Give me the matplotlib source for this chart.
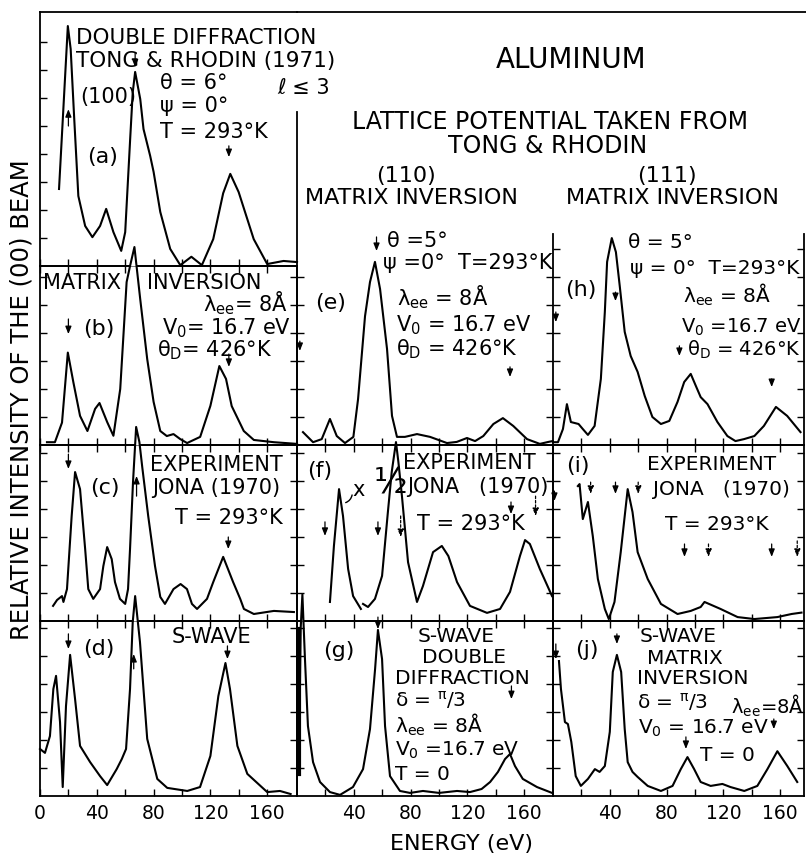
import matplotlib
matplotlib.use("Agg")
import matplotlib.pyplot as plt
from matplotlib.lines import Line2D
import numpy as np

W, H = 806, 854
PX_PER_EV = 1.42      # horizontal scale shared by all panels
PX_PER_UNIT = 28.0    # one y-tick step

# ---- curves: energy (eV) and relative intensity (tick units) ----
a_energy = [13.4, 19.6, 21.6, 24, 27, 31.8, 36.9, 42.3, 46.6, 51.7, 57.2, 60, 63.5, 65.3, 67, 70.6,
            72.9, 77.6, 80, 84.7, 91.7, 98.8, 106.6, 114, 122, 129, 134, 139.9, 150.5, 160, 171.5, 181]
a_int = [2.75, 8.57, 7.75, 5.36, 2.5, 1.43, 1.03, 1.43, 2.04, 1.21, 0.54, 1.21, 4.54, 6.2, 6.93, 5.96,
         4.89, 3.93, 3.36, 1.93, 0.61, 0.03, 0.33, 0.03, 0.96, 2.6, 3.29, 2.64, 0.96, 0.07, 0.18, 0.14]

b_energy = [4.9, 10.5, 15.5, 19.6, 23.5, 28.2, 33.4, 38.8, 41.9, 47.3, 51.7, 56.5, 61, 63.4, 66.5, 70.6,
            75.5, 80, 84.7, 89.3, 94, 98.8, 103.6, 112.8, 120, 126.3, 131, 135, 143.5, 150.6, 164.7, 181]
b_int = [0.1, 0.1, 0.8, 3.3, 2.24, 1.04, 0.5, 1.29, 1.5, 0.82, 0.33, 2.0, 5.82, 6.39, 7.07, 5.2,
         3.07, 1.54, 0.5, 0.32, 0.39, 0.21, 0.07, 0.29, 1.4, 2.82, 2.36, 1.39, 0.5, 0.18, 0.1, 0.04]

c_energy = [9.2, 12, 15.5, 16.5, 19, 22.3, 24.7, 28.2, 31.8, 34, 37.5, 42.3, 44.6, 47.3, 50.5, 52.8,
            56.3, 60, 62, 63.4, 65.5, 67.7, 70, 72, 76.2, 81, 84.7, 88, 94, 99, 103.5, 107, 110.6,
            117.6, 122, 129, 136, 141, 143.6, 150.6, 164.7, 178.8]
c_int = [0.54, 0.75, 0.89, 0.68, 1.14, 3.75, 5.32, 4.71, 2.57, 1.14, 0.79, 1.14, 1.96, 2.64, 2.21, 1.39,
         0.79, 0.61, 1.14, 2.57, 4.96, 6.93, 6.39, 5.5, 3.75, 1.96, 0.86, 0.61, 1.14, 1.32, 1.14, 0.61,
         0.43, 0.79, 1.39, 2.29, 1.39, 0.79, 0.43, 0.25, 0.36, 0.32]

d_energy = [0, 3.5, 7, 9.4, 11.3, 14.1, 16, 18.3, 21.2, 24.7, 28.2, 35.3, 42.3, 47.3, 54, 57.6, 60.6,
            63.4, 65.3, 67, 70.4, 75.5, 82.6, 89.6, 103.7, 112.7, 120, 125.6, 130.6, 133.8, 139, 146,
            160, 169, 176.5]
d_int = [1.68, 1.54, 2.14, 3.82, 4.29, 2.64, 0.32, 3.21, 5.04, 3.46, 1.79, 1.21, 0.71, 0.39, 0.96, 1.32,
         1.68, 3.82, 6.21, 7.14, 5.5, 2.04, 0.61, 0.29, 0.18, 0.32, 1.43, 3.57, 4.75, 3.82, 1.79, 0.79,
         0.14, 0.18, 0.07]

e_energy = [4.2, 11.3, 17.4, 23.2, 28, 33.8, 39.7, 43, 47.9, 51.4, 54.9, 58.5, 63.4, 66.9, 70.4, 76,
            84.5, 93.7, 105.6, 112.5, 119.7, 125.4, 131.2, 138.3, 145, 152.3, 162, 171, 177, 180]
e_int = [0.46, 0.1, 0.21, 0.93, 0.32, 0.07, 0.29, 1.64, 4.6, 5.82, 6.54, 5.57, 3.43, 1.04, 0.29, 0.29,
         0.39, 0.29, 0.07, 0.11, 0.25, 0.14, 0.32, 0.75, 0.96, 0.68, 0.21, 0.04, 0.11, 0.14]

# experiment (f) is drawn in two pieces, as in the original
f1_energy = [23.2, 26, 29.6, 32.4, 36, 39.5, 45]
f1_int = [0.68, 2.68, 4.71, 3.75, 1.86, 0.89, 0.43]
f2_energy = [46.5, 50, 54.9, 59.9, 64, 66.7, 69.7, 71.4, 73.9, 78.2, 84.5, 88.7, 95.8, 102, 106.6,
             112.7, 121.8, 133.8, 143, 150, 157, 160.6, 164, 171, 179.6]
f2_int = [0.61, 0.5, 0.79, 1.61, 3.89, 5.32, 6.39, 5.68, 4.46, 2.1, 0.68, 1.25, 2.46, 2.68, 2.32,
          1.39, 0.54, 0.29, 0.43, 1.04, 2.32, 2.89, 2.75, 1.86, 0.89]

g_energy = [1.3, 2.6, 3.8, 5.6, 7.7, 11.3, 16.2, 23.2, 30.3, 39.4, 46.5, 51.4, 55, 57, 59.9, 62, 65.5,
            72.5, 79.6, 88.7, 100, 112.7, 121.8, 130, 136, 141.5, 146.5, 150, 153.5, 159, 169, 179.6]
g_int = [0.79, 6.0, 7.2, 4.9, 2.5, 1.21, 0.5, 0.14, 0.04, 0.32, 0.96, 2.39, 4.54, 5.93, 4.89, 2.5, 0.71,
         0.18, 0.11, 0.18, 0.11, 0.18, 0.14, 0.25, 0.5, 0.86, 1.32, 1.5, 1.07, 0.61, 0.32, 0.11]

h_energy = [0, 3.5, 7, 9.8, 12.6, 18, 21, 24.6, 29.3, 33.7, 36.5, 38.1, 41.4, 44.3, 47, 50.5, 54.7,
            59.6, 64.6, 70, 76, 81.9, 87.7, 92.4, 97, 100.6, 104, 108.8, 115.8, 122.8, 128.5, 134.5,
            141.8, 148.5, 157, 164.9, 174.3]
h_int = [0.1, 0.1, 0.57, 1.46, 0.82, 0.75, 0.57, 0.36, 0.68, 2.36, 4.75, 6.54, 7.39, 6.89, 5.68, 4.04,
         3.18, 2.61, 1.75, 1.0, 0.75, 0.86, 1.54, 2.25, 2.54, 2.11, 1.71, 1.46, 0.82, 0.32, 0.14, 0.21,
         0.32, 0.68, 1.36, 1.04, 0.46]

i_energy = [17.5, 18.7, 21, 24.6, 28, 31.6, 36.5, 39.3, 43.3, 47.7, 52.6, 56, 59.6, 66.7, 76, 87.7, 97,
            104, 106.7, 118, 130, 141.8, 158, 168, 175]
i_int = [4.82, 4.89, 3.64, 4.25, 3.04, 1.5, 0.43, 0.07, 0.68, 2.46, 4.71, 3.89, 2.46, 1.5, 0.61, 0.25,
         0.36, 0.5, 0.68, 0.43, 0.14, 0.07, 0.14, 0.25, 0.3]

j_energy = [4.2, 5.6, 8.4, 10.5, 12.9, 16, 19.6, 24.6, 29.5, 32.8, 36.5, 40, 42.1, 45, 48, 50.5, 52.6,
            56, 59.6, 66.7, 76, 84.2, 90, 94.7, 99.4, 104, 111, 119.3, 125, 134.7, 143.9, 151, 158, 165,
            172]
j_int = [4.82, 3.82, 2.64, 2.57, 1.93, 0.71, 0.36, 0.61, 0.96, 0.86, 1.07, 2.29, 4.43, 5.04, 4.43, 2.39,
         1.21, 0.86, 0.68, 0.36, 0.18, 0.36, 0.96, 1.39, 0.96, 0.5, 0.36, 0.43, 0.32, 0.18, 0.36, 0.96,
         1.6, 1.07, 0.5]

# arrows marking peak energies: (energy, tail, head, dashed)
a_arrows = [(20, 5.0, 5.6, False), (133, 4.29, 3.89, False), (67, 7.6, 7.1, False)]
b_arrows = [(20, 4.5, 3.96, False), (133, 3.25, 2.79, False)]
c_arrows = [(20, 5.96, 5.43, False), (68, 4.46, 5.18, False), (132.6, 3.0, 2.57, False)]
d_arrows = [(20, 5.79, 5.25, False), (66, 4.54, 5.07, False), (132, 5.36, 4.89, False)]
e_arrows = [(56, 7.43, 6.93, False), (2, 3.71, 3.36, False), (150, 2.79, 2.43, False)]
f_arrows = [(19.7, 3.54, 3.04, False), (57, 3.54, 3.04, False), (73, 3.75, 3.0, True),
            (150.7, 4.25, 3.82, False), (168, 4.46, 3.75, True)]
g_arrows = [(151, 3.93, 3.46, False), (57, 6.39, 5.96, False)]
h_arrows = [(44, 5.46, 5.14, False), (2, 4.75, 4.39, False), (89, 3.54, 3.18, False),
            (154, 2.36, 2.07, False)]
i_arrows = [(1, 4.64, 4.29, False), (26.5, 4.96, 4.54, True), (44, 4.96, 4.54, False),
            (60, 4.96, 4.54, True), (92.6, 2.75, 2.29, False), (109.5, 2.75, 2.29, True),
            (154, 2.75, 2.29, False), (172, 2.86, 2.29, True)]
j_arrows = [(45, 5.79, 5.43, False), (93.6, 2.11, 1.68, False), (155.5, 2.75, 2.39, False),
            (2, 5.43, 4.89, False)]

plt.rcParams['font.family'] = ['DejaVu Sans']
plt.rcParams['mathtext.default'] = 'regular'

fig = plt.figure(figsize=(W / 100, H / 100), dpi=100)
fig.patch.set_facecolor('white')


def make_panel(box, yticks, left_col, bottom=False, hide=(), no_ticks=()):
    x0, x1, y0, y1 = box
    ax = fig.add_axes([x0 / W, 1 - y1 / H, (x1 - x0) / W, (y1 - y0) / H])
    ax.set_xlim(0, (x1 - x0) / PX_PER_EV)
    ax.set_ylim(0, (y1 - y0) / PX_PER_UNIT)
    ax.patch.set_alpha(0)
    for s in ax.spines.values():
        s.set_linewidth(1.3)
    for s in hide:
        ax.spines[s].set_visible(False)
    ticks = list(range(0 if left_col else 20, 161, 20))
    labels = [str(t) if (t % 40 == 0 and bottom) else '' for t in ticks]
    ax.set_xticks(ticks, labels)
    ax.set_yticks(yticks, [''] * len(yticks))
    ax.tick_params(direction='in', length=5, width=1.0, top='top' not in no_ticks,
                   right='right' not in no_ticks, labelsize=13.5, pad=5)
    return ax


def draw_curve(ax, x, y):
    y = np.asarray(y, dtype=float)
    top = ax.get_ylim()[1]
    if y.max() > top:
        # white inside the peak where it breaks through the panel border
        ax.fill_between(x, top, y, where=y > top, interpolate=True, color='white',
                        lw=0, clip_on=False, zorder=2.8)
    ax.plot(x, y, color='k', lw=1.5, clip_on=False, zorder=3, solid_joinstyle='round')


def draw_arrows(ax, arrows):
    for e, tail, head, dashed in arrows:
        ax.annotate('', xy=(e, head), xytext=(e, tail), annotation_clip=False,
                    arrowprops=dict(arrowstyle='-|>,head_length=0.45,head_width=0.18',
                                    color='k', lw=0.9, shrinkA=0, shrinkB=0,
                                    linestyle=(0, (2, 1.5)) if dashed else '-'))


ax_a = make_panel((40, 297, 13, 267), range(1, 9), True, hide=('right',), no_ticks=('top', 'right'))
ax_b = make_panel((40, 297, 267, 446), range(1, 7), True)
ax_c = make_panel((40, 297, 446, 622), range(1, 7), True)
ax_d = make_panel((40, 297, 622, 797), range(1, 7), True, bottom=True)
ax_e = make_panel((297, 553, 113, 446), range(1, 7), False, hide=('top', 'right'), no_ticks=('top',))
ax_f = make_panel((297, 553, 446, 622), range(1, 7), False)
ax_g = make_panel((297, 553, 622, 797), range(1, 7), False, bottom=True)
ax_h = make_panel((553, 804, 235, 446), range(1, 8), False, hide=('top',), no_ticks=('top',))
ax_i = make_panel((553, 804, 446, 622), range(1, 7), False)
ax_j = make_panel((553, 804, 622, 797), range(1, 7), False, bottom=True)

draw_curve(ax_a, a_energy, a_int)
draw_curve(ax_b, b_energy, b_int)
draw_curve(ax_c, c_energy, c_int)
draw_curve(ax_d, d_energy, d_int)
draw_curve(ax_e, e_energy, e_int)
draw_curve(ax_f, f1_energy, f1_int)
draw_curve(ax_f, f2_energy, f2_int)
draw_curve(ax_g, g_energy, g_int)
draw_curve(ax_h, h_energy, h_int)
draw_curve(ax_i, i_energy, i_int)
draw_curve(ax_j, j_energy, j_int)
ax_g.plot([1.3, 1.3], [0.79, 5.96], color='k', lw=3, clip_on=False, zorder=3)

for ax, arr in [(ax_a, a_arrows), (ax_b, b_arrows), (ax_c, c_arrows), (ax_d, d_arrows),
                (ax_e, e_arrows), (ax_f, f_arrows), (ax_g, g_arrows), (ax_h, h_arrows),
                (ax_i, i_arrows), (ax_j, j_arrows)]:
    draw_arrows(ax, arr)

# "x 1/2" pointer in (f)
ax_f.annotate('', xy=(32.4, 4.2), xytext=(39.0, 4.6), annotation_clip=False,
              arrowprops=dict(arrowstyle='-', color='k', lw=1.0,
                              connectionstyle='arc3,rad=-0.4'))

# frame line along the top of the whole figure
fig.add_artist(Line2D([297 / W, 806 / W], [1 - 13 / H, 1 - 13 / H], color='k', lw=1.3))


def txt(x, y, s, size=15, ha='left', **kw):
    fig.text(x / W, 1 - y / H, s, ha=ha, va='center', fontsize=size, **kw)


# column (a)-(d)
txt(76, 38, 'DOUBLE DIFFRACTION', 15.5)
txt(76, 61, 'TONG & RHODIN (1971)', 15.5)
txt(80, 97, '(100)')
txt(160, 83, 'θ = 6°')
txt(277, 88, 'ℓ ≤ 3')
txt(160, 106, 'ψ = 0°')
txt(160, 132, 'T = 293°K')
txt(87, 157, '(a)', 16)
txt(43, 283, 'MATRIX')
txt(147, 283, 'INVERSION')
txt(203, 303, 'λ$_{ee}$= 8Å')
txt(83, 329, '(b)', 16)
txt(162, 328, 'V$_0$= 16.7 eV')
txt(157, 350, 'θ$_D$= 426°K')
txt(150, 465, 'EXPERIMENT')
txt(152, 488, 'JONA (1970)')
txt(90, 488, '(c)', 16)
txt(175, 518, 'T = 293°K')
txt(83, 649, '(d)', 16)
txt(172, 637, 'S-WAVE')

# header
txt(571, 60, 'ALUMINUM', 20, 'center')
txt(550, 122, 'LATTICE POTENTIAL TAKEN FROM', 17, 'center')
txt(548, 146, 'TONG & RHODIN', 17, 'center')
txt(406, 176, '(110)', 16, 'center')
txt(667, 176, '(111)', 16, 'center')
txt(411, 198, 'MATRIX INVERSION', 16, 'center')
txt(672, 198, 'MATRIX INVERSION', 16, 'center')

# column (e)-(g)
txt(387, 241, 'θ =5°')
txt(383, 263, 'ψ =0°  T=293°K')
txt(315, 303, '(e)', 16)
txt(397, 297, 'λ$_{ee}$ = 8Å')
txt(396, 325, 'V$_0$ = 16.7 eV')
txt(396, 349, 'θ$_D$ = 426°K')
txt(307, 471, '(f)', 16)
txt(403, 463, 'EXPERIMENT')
txt(407, 487, 'JONA   (1970)')
txt(417, 524, 'T = 293°K')
txt(352, 490, 'x')
txt(374, 484, '½', 25)
txt(323, 651, '(g)', 16)
txt(418, 637, 'S-WAVE', 14.5)
txt(422, 658, 'DOUBLE', 14.5)
txt(395, 679, 'DIFFRACTION', 14.5)
txt(395, 700, 'δ = $^{\\pi}$/3', 14.5)
txt(395, 725, 'λ$_{ee}$ = 8Å', 14.5)
txt(395, 750, 'V$_0$ =16.7 eV', 14.5)
txt(395, 775, 'T = 0', 14.5)

# column (h)-(j)
txt(628, 243, 'θ = 5°', 14.5)
txt(630, 268, 'ψ = 0°  T=293°K', 14.5)
txt(565, 290, '(h)', 16)
txt(683, 295, 'λ$_{ee}$ = 8Å', 14.5)
txt(681, 327, 'V$_0$ =16.7 eV', 14)
txt(687, 350, 'θ$_D$ = 426°K', 14)
txt(566, 466, '(i)', 16)
txt(647, 465, 'EXPERIMENT', 14.5)
txt(653, 490, 'JONA   (1970)', 14.5)
txt(665, 525, 'T = 293°K', 14.5)
txt(575, 650, '(j)', 16)
txt(640, 636, 'S-WAVE', 14.5)
txt(647, 659, 'MATRIX', 14.5)
txt(637, 679, 'INVERSION', 14.5)
txt(637, 702, 'δ = $^{\\pi}$/3', 14.5)
txt(731, 706, 'λ$_{ee}$=8Å', 14)
txt(638, 728, 'V$_0$ = 16.7 eV', 14.5)
txt(700, 756, 'T = 0', 14.5)

# axis titles
txt(22, 400, 'RELATIVE INTENSITY OF THE (00) BEAM', 17.5, 'center', rotation=90)
txt(461, 844, 'ENERGY (eV)', 16, 'center')

fig.savefig('out.png', dpi=100, facecolor='white')
